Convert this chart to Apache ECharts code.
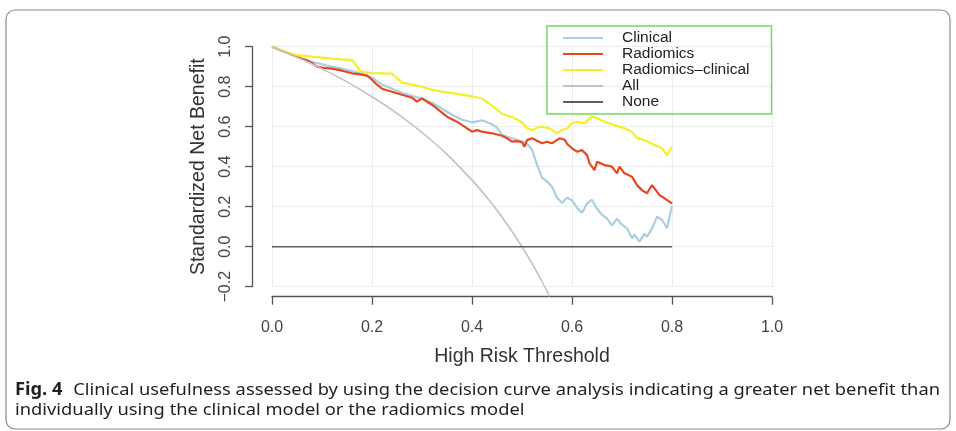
<!DOCTYPE html>
<html>
<head>
<meta charset="utf-8">
<script src="https://cdn.jsdelivr.net/npm/echarts@6/dist/echarts.min.js"></script>
<style>html,body{margin:0;padding:0;background:#fff;}#c{width:956px;height:431px;}</style>
</head>
<body>
<div id="c"></div>
<script>
const seriesNames = ['Clinical', 'Radiomics', 'Radiomics\u2013clinical', 'All', 'None'];
const xTicks = [0, 0.2, 0.4, 0.6, 0.8, 1.0];
const yTicks = [-0.2, 0, 0.2, 0.4, 0.6, 0.8, 1.0];

const clinical = [[0,1.0],[0.02,0.98],[0.04,0.96],[0.06,0.94],[0.08,0.925],[0.10,0.912],[0.12,0.90],[0.14,0.89],[0.16,0.878],[0.18,0.865],[0.20,0.845],[0.22,0.81],[0.24,0.79],[0.26,0.77],[0.28,0.755],[0.30,0.74],[0.32,0.72],[0.34,0.69],[0.36,0.66],[0.38,0.635],[0.40,0.622],[0.42,0.632],[0.44,0.612],[0.45,0.595],[0.46,0.558],[0.48,0.542],[0.50,0.527],[0.51,0.515],[0.52,0.485],[0.53,0.41],[0.54,0.345],[0.55,0.325],[0.56,0.30],[0.57,0.245],[0.58,0.22],[0.59,0.245],[0.60,0.232],[0.61,0.195],[0.62,0.17],[0.63,0.215],[0.64,0.235],[0.65,0.19],[0.66,0.16],[0.67,0.14],[0.68,0.105],[0.69,0.14],[0.70,0.11],[0.71,0.092],[0.72,0.042],[0.725,0.06],[0.735,0.025],[0.745,0.065],[0.75,0.05],[0.76,0.09],[0.77,0.15],[0.78,0.135],[0.79,0.092],[0.80,0.205]];

const radiomics = [[0,1.0],[0.02,0.98],[0.04,0.96],[0.06,0.94],[0.07,0.932],[0.08,0.918],[0.09,0.90],[0.10,0.895],[0.12,0.89],[0.14,0.88],[0.16,0.867],[0.18,0.86],[0.19,0.855],[0.20,0.835],[0.21,0.81],[0.22,0.79],[0.24,0.775],[0.26,0.76],[0.28,0.745],[0.29,0.725],[0.30,0.742],[0.31,0.725],[0.32,0.71],[0.33,0.69],[0.35,0.65],[0.37,0.625],[0.39,0.592],[0.40,0.575],[0.41,0.583],[0.42,0.575],[0.44,0.567],[0.46,0.555],[0.47,0.542],[0.48,0.525],[0.49,0.528],[0.50,0.522],[0.505,0.50],[0.51,0.533],[0.52,0.542],[0.53,0.53],[0.54,0.517],[0.55,0.525],[0.56,0.517],[0.575,0.542],[0.585,0.535],[0.59,0.515],[0.60,0.492],[0.61,0.475],[0.62,0.483],[0.63,0.458],[0.635,0.417],[0.645,0.383],[0.65,0.425],[0.665,0.408],[0.68,0.40],[0.69,0.367],[0.695,0.40],[0.705,0.367],[0.72,0.35],[0.73,0.308],[0.74,0.283],[0.75,0.267],[0.76,0.308],[0.765,0.292],[0.775,0.258],[0.785,0.242],[0.80,0.217]];

const combined = [[0,1.0],[0.02,0.982],[0.04,0.965],[0.05,0.958],[0.08,0.95],[0.10,0.945],[0.12,0.94],[0.14,0.937],[0.16,0.933],[0.17,0.90],[0.175,0.88],[0.18,0.875],[0.20,0.868],[0.22,0.867],[0.24,0.865],[0.26,0.82],[0.28,0.81],[0.30,0.80],[0.32,0.785],[0.34,0.775],[0.36,0.768],[0.38,0.76],[0.40,0.752],[0.42,0.74],[0.44,0.705],[0.46,0.665],[0.48,0.648],[0.50,0.622],[0.51,0.592],[0.52,0.583],[0.53,0.595],[0.54,0.60],[0.555,0.592],[0.57,0.567],[0.58,0.583],[0.59,0.59],[0.60,0.617],[0.61,0.625],[0.625,0.617],[0.64,0.65],[0.65,0.643],[0.665,0.625],[0.685,0.608],[0.705,0.592],[0.72,0.575],[0.73,0.542],[0.745,0.533],[0.765,0.508],[0.78,0.492],[0.79,0.458],[0.80,0.50]];

const treatAll = [[0,1.0],[0.05,0.947],[0.1,0.889],[0.15,0.824],[0.2,0.75],[0.25,0.667],[0.3,0.571],[0.35,0.462],[0.4,0.333],[0.425,0.261],[0.45,0.182],[0.475,0.095],[0.5,0.0],[0.52,-0.083],[0.54,-0.174],[0.555,-0.248]];

const treatNone = [[0,0],[0.8,0]];

const captionBold = 'Fig. 4';
const captionLine1 = 'Clinical usefulness assessed by using the decision curve analysis indicating a greater net benefit than';
const captionLine2 = 'individually using the clinical model or the radiomics model';

const colors = ['#a9cfe0', '#e8471f', '#f4ef2a', '#c2c2c2', '#5c5c5c'];
const widths = [2.2, 2.2, 2.2, 1.6, 1.6];
const dataSets = [clinical, radiomics, combined, treatAll, treatNone];

// caption: condensed via scaleX so the first line spans the box width
const capSize = 17, capFamily = '"Noto Sans", sans-serif';
const mctx = document.createElement('canvas').getContext('2d');
function tw(t, bold) { mctx.font = (bold ? 'bold ' : '') + capSize + 'px ' + capFamily; return mctx.measureText(t).width; }
const boldGap = 10;
const boldW = tw(captionBold, true);
const line1W = boldW + boldGap + tw(captionLine1, false);
const capScale = 925 / line1W;

const chart = echarts.init(document.getElementById('c'), null, {renderer: 'canvas'});
const fmt = v => (v < 0 ? '\u2212' + Math.abs(v).toFixed(1) : v.toFixed(1));
const capStyle = (text, bold) => ({text: text, fontSize: capSize, fontFamily: capFamily, fontWeight: bold ? 'bold' : 'normal', fill: '#231f20', verticalAlign: 'middle', textVerticalAlign: 'middle'});

const option = {
  animation: false,
  backgroundColor: '#fff',
  textStyle: {fontFamily: 'Liberation Sans, Arial, sans-serif'},
  grid: {left: 272, top: 46.7, width: 500, height: 240, containLabel: false},
  xAxis: {
    type: 'value', min: xTicks[0], max: xTicks[xTicks.length - 1], interval: 0.2,
    offset: 10,
    axisLine: {show: true, onZero: false, lineStyle: {color: '#555', width: 1.3}},
    axisTick: {show: true, length: 8, lineStyle: {color: '#555', width: 1.3}},
    axisLabel: {margin: 23, fontSize: 16, color: '#444', formatter: fmt},
    splitLine: {show: true, lineStyle: {color: '#ececec', width: 1}},
    name: 'High Risk Threshold', nameLocation: 'middle', nameGap: 50,
    nameTextStyle: {fontSize: 19.5, color: '#333'}
  },
  yAxis: {
    type: 'value', min: yTicks[0], max: yTicks[yTicks.length - 1], interval: 0.2,
    offset: 20,
    axisLine: {show: true, onZero: false, lineStyle: {color: '#555', width: 1.3}},
    axisTick: {show: true, length: 7, lineStyle: {color: '#555', width: 1.3}},
    axisLabel: {margin: 18, fontSize: 16, color: '#444', rotate: 90, formatter: fmt},
    splitLine: {show: true, lineStyle: {color: '#ececec', width: 1}},
    name: 'Standardized Net Benefit', nameLocation: 'middle', nameGap: 43,
    nameTextStyle: {fontSize: 19.5, color: '#333'}
  },
  legend: {
    orient: 'vertical', left: 547, top: 26,
    data: seriesNames,
    icon: 'rect', itemWidth: 40, itemHeight: 2, itemGap: 0,
    padding: [4, 22, 4, 16],
    borderColor: '#72dc5c', borderWidth: 1.5,
    textStyle: {fontSize: 15.5, color: '#222', lineHeight: 15.2, padding: [0, 0, 0, 14]}
  },
  graphic: [
    {type: 'rect', shape: {x: 6, y: 10, width: 944, height: 419, r: 9}, style: {fill: 'none', stroke: '#8a8a8a', lineWidth: 1.2}, z: -1},
    {type: 'group', x: 15, y: 390, scaleX: capScale, children: [
      {type: 'text', x: 0, y: 0, style: capStyle(captionBold, true)},
      {type: 'text', x: boldW + boldGap, y: 0, style: capStyle(captionLine1, false)}
    ]},
    {type: 'group', x: 15, y: 410, scaleX: capScale, children: [
      {type: 'text', x: 0, y: 0, style: capStyle(captionLine2, false)}
    ]}
  ],
  series: seriesNames.map((n, i) => ({
    name: n, type: 'line', data: dataSets[i], showSymbol: false, symbol: 'none',
    clip: i !== 3, smooth: i === 3 ? 0.2 : false,
    lineStyle: {color: colors[i], width: widths[i]}, itemStyle: {color: colors[i]},
    z: i === 4 ? 5 : 3
  }))
};
chart.setOption(option);
</script>
</body>
</html>
